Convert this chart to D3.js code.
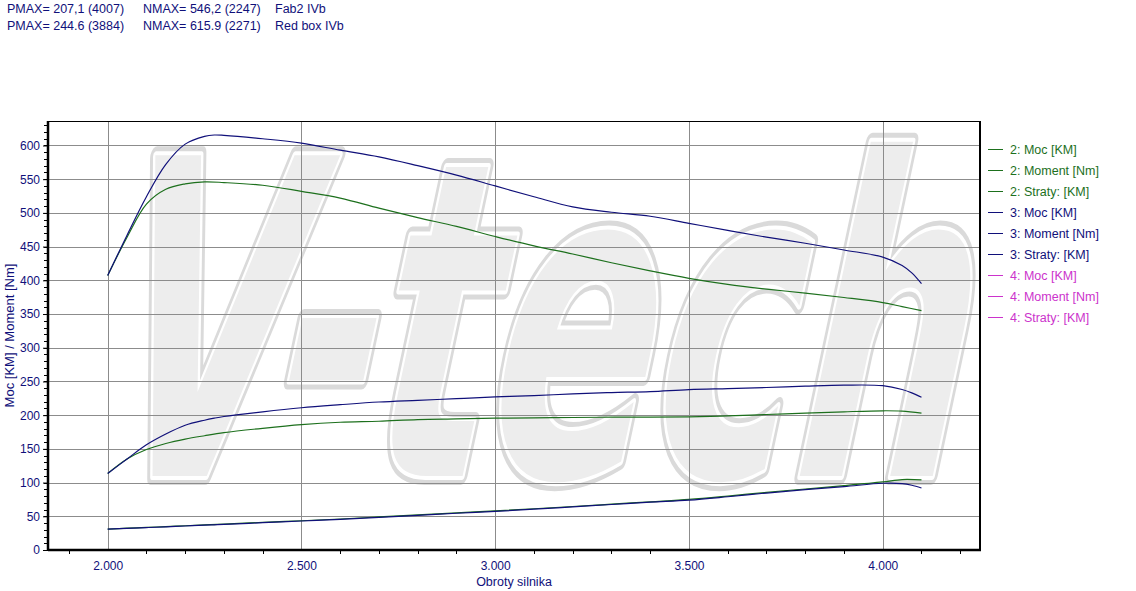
<!DOCTYPE html>
<html>
<head>
<meta charset="utf-8">
<script src="https://cdn.jsdelivr.net/npm/d3@7"></script>
<style>
  html, body { margin: 0; padding: 0; background: #fff; }
  svg { display: block; font-family: "Liberation Sans", Arial, sans-serif; }
</style>
</head>
<body>
<svg id="chart" width="1136" height="591"></svg>
<script>
// ---------------- DATA ----------------
const headerLines = [
  ["PMAX= 207,1 (4007)", "NMAX= 546,2 (2247)", "Fab2 IVb"],
  ["PMAX= 244.6 (3884)", "NMAX= 615.9 (2271)", "Red box IVb"]
];

const legendLabels = [
  "2: Moc [KM]", "2: Moment [Nm]", "2: Straty: [KM]",
  "3: Moc [KM]", "3: Moment [Nm]", "3: Straty: [KM]",
  "4: Moc [KM]", "4: Moment [Nm]", "4: Straty: [KM]"
];
const legendColors = [
  "#1d701d", "#1d701d", "#1d701d",
  "#10107a", "#10107a", "#10107a",
  "#cc33cc", "#cc33cc", "#cc33cc"
];

const xTicks = [2000, 2500, 3000, 3500, 4000];
const xTickLabels = ["2.000", "2.500", "3.000", "3.500", "4.000"];
const yTicks = [0, 50, 100, 150, 200, 250, 300, 350, 400, 450, 500, 550, 600];

// run 2 (green)
const rpm2 = [2000, 2050, 2100, 2150, 2200, 2250, 2300, 2400, 2500, 2600, 2700, 2800, 2900, 3000, 3100, 3200, 3300, 3400, 3500, 3600, 3700, 3800, 3900, 4000, 4050, 4100];
const moment2 = [407, 464, 513, 535, 543, 546, 545, 541, 532, 522, 507, 493, 480, 465, 451, 439, 426, 414, 403, 394, 387, 381, 374.5, 367, 361, 355];
const power2  = [113.5, 135, 149, 158, 164.5, 169.5, 174, 180.5, 186, 189.5, 191, 193.5, 194.5, 195.5, 196, 196.5, 197, 197, 197.5, 199, 201, 203, 205, 206.5, 206, 203];
const losses2 = [31, 32.3, 33.5, 34.8, 36, 37.3, 38.5, 41, 43.4, 46, 49, 52, 55, 58, 61.2, 64.5, 68, 71.5, 75, 80, 85.5, 90.5, 95.5, 101, 104.5, 104];

// run 3 (navy)
const rpm3 = [2000, 2050, 2100, 2150, 2200, 2250, 2275, 2300, 2400, 2500, 2600, 2700, 2800, 2900, 3000, 3100, 3200, 3300, 3400, 3500, 3600, 3700, 3800, 3900, 4000, 4050, 4075, 4100];
const moment3 = [407, 467, 524, 572, 602, 613.5, 615.5, 615, 610, 603.5, 593, 583, 570, 556, 540, 524, 509, 501, 495, 484.5, 474, 464, 455, 445, 434.5, 422, 411, 395];
const power3  = [113.5, 135, 156, 172, 185, 192.5, 195.5, 198, 205, 211, 215.5, 219.5, 222, 224.5, 227, 229, 231.5, 233.5, 235, 238, 239.5, 241, 243, 244.5, 243.7, 238, 233, 226.5];
const losses3 = [31, 32.1, 33.2, 34.4, 35.6, 36.8, 37.4, 38, 40.5, 43, 45.5, 48.5, 51.5, 54.5, 57.3, 60.5, 64, 67.5, 71, 74, 79, 84.5, 89.5, 94, 99, 98.5, 96, 92];

// ---------------- LAYOUT ----------------
const svg = d3.select("#chart");
const plot = { left: 48, right: 980, top: 121, bottom: 550 };
const x = d3.scaleLinear().domain([1846, 4251]).range([plot.left, plot.right]);
const y = d3.scaleLinear().domain([0, 636.3]).range([plot.bottom, plot.top]);
const textColor = "#10107a";
const green = legendColors[0], navy = legendColors[3];

// header
headerLines.forEach((line, i) => {
  const xs = [7, 143, 275];
  line.forEach((t, j) => {
    svg.append("text").attr("x", xs[j]).attr("y", 13 + i * 16.5)
      .attr("font-size", 12.5).attr("fill", textColor).text(t);
  });
});

// clip for plot
svg.append("clipPath").attr("id", "clip").append("rect")
  .attr("x", plot.left).attr("y", plot.top)
  .attr("width", plot.right - plot.left).attr("height", plot.bottom - plot.top);

// watermark
const wm = svg.append("g").attr("clip-path", "url(#clip)");
const wmG = wm.append("g").attr("transform", "translate(86,476) skewX(-12) scale(0.55,1)");
[["#dadada", 18], ["#ffffff", 8], ["#ededed", 0]].forEach(([c, w]) => {
  wmG.append("text").attr("x", 0).attr("y", 0)
    .attr("font-family", "DejaVu Sans").attr("font-weight", "bold")
    .attr("font-size", 440)
    .attr("fill", "#ededed")
    .attr("stroke", w ? c : "none").attr("stroke-width", w)
    .attr("stroke-linejoin", "round")
    .text("V-tech");
});

// grid
const grid = svg.append("g");
grid.selectAll("line.h").data(yTicks.filter(d => d > 0)).join("line")
  .attr("x1", plot.left).attr("x2", plot.right)
  .attr("y1", d => Math.round(y(d)) + 0.5).attr("y2", d => Math.round(y(d)) + 0.5)
  .attr("stroke", "#8c8c8c").attr("stroke-width", 1);
grid.selectAll("line.v").data(xTicks).join("line")
  .attr("y1", plot.top).attr("y2", plot.bottom)
  .attr("x1", d => Math.round(x(d)) + 0.5).attr("x2", d => Math.round(x(d)) + 0.5)
  .attr("stroke", "#8c8c8c").attr("stroke-width", 1);

// frame
svg.append("rect").attr("x", plot.left + 0.5).attr("y", plot.top + 0.5)
  .attr("width", plot.right - plot.left - 1).attr("height", plot.bottom - plot.top)
  .attr("fill", "none").attr("stroke", "#000").attr("stroke-width", 1);
svg.append("line").attr("x1", plot.right).attr("x2", plot.right)
  .attr("y1", plot.top).attr("y2", plot.bottom).attr("stroke", "#000").attr("stroke-width", 2);

// axes
const yAxis = d3.axisLeft(y).tickValues(yTicks).tickSize(5).tickPadding(3);
const gy = svg.append("g").attr("transform", `translate(${plot.left},0)`).call(yAxis);
gy.select(".domain").remove();
gy.selectAll("text").attr("font-size", 12).attr("fill", textColor).attr("font-family", "Liberation Sans, Arial");
gy.selectAll("line").attr("stroke", "#000");
// y minor ticks
svg.append("g").selectAll("line").data(d3.range(0, 636, 10)).join("line")
  .attr("x1", plot.left - 4).attr("x2", plot.left)
  .attr("y1", d => Math.round(y(d)) + 0.5).attr("y2", d => Math.round(y(d)) + 0.5)
  .attr("stroke", "#000");

const xAxis = d3.axisBottom(x).tickValues(xTicks).tickFormat((d, i) => xTickLabels[i]).tickSize(0).tickPadding(11);
const gx = svg.append("g").attr("transform", `translate(0,${plot.bottom})`).call(xAxis);
gx.select(".domain").remove();
gx.selectAll("text").attr("font-size", 12).attr("fill", textColor).attr("font-family", "Liberation Sans, Arial");
// x minor ticks
svg.append("g").selectAll("line").data(d3.range(1900, 4300, 100).filter(d => xTicks.indexOf(d) < 0)).join("line")
  .attr("y1", plot.bottom).attr("y2", plot.bottom + 4)
  .attr("x1", d => Math.round(x(d)) + 0.5).attr("x2", d => Math.round(x(d)) + 0.5)
  .attr("stroke", "#000");

// thick axis lines
svg.append("line").attr("x1", plot.left).attr("x2", plot.left)
  .attr("y1", plot.top).attr("y2", plot.bottom + 1).attr("stroke", "#000").attr("stroke-width", 2.5);
svg.append("line").attr("x1", plot.left).attr("x2", plot.right + 1)
  .attr("y1", plot.bottom).attr("y2", plot.bottom).attr("stroke", "#000").attr("stroke-width", 2.5);

// axis titles
svg.append("text").attr("x", (plot.left + plot.right) / 2).attr("y", 586)
  .attr("text-anchor", "middle").attr("font-size", 12.5).attr("fill", textColor).text("Obroty silnika");
svg.append("text").attr("transform", `translate(14,${(plot.top + plot.bottom) / 2}) rotate(-90)`)
  .attr("text-anchor", "middle").attr("font-size", 13).attr("fill", textColor).text("Moc [KM] / Moment [Nm]");

// curves
const line = d3.line().x(d => x(d[0])).y(d => y(d[1])).curve(d3.curveCatmullRom.alpha(0.5));
const curves = [
  [rpm2, losses2, green], [rpm3, losses3, navy],
  [rpm2, power2, green], [rpm3, power3, navy],
  [rpm2, moment2, green], [rpm3, moment3, navy]
];
const cg = svg.append("g").attr("clip-path", "url(#clip)");
curves.forEach(([r, v, c]) => {
  cg.append("path").datum(r.map((d, i) => [d, v[i]]))
    .attr("d", line).attr("fill", "none").attr("stroke", c).attr("stroke-width", 1.2);
});

// legend
const lg = svg.append("g");
legendLabels.forEach((t, i) => {
  const yy = 149 + i * 21;
  lg.append("line").attr("x1", 988).attr("x2", 1003).attr("y1", yy + 0.5).attr("y2", yy + 0.5)
    .attr("stroke", legendColors[i]).attr("stroke-width", 1);
  lg.append("text").attr("x", 1010).attr("y", yy + 4.5).attr("font-size", 12.5)
    .attr("fill", legendColors[i]).text(t);
});
</script>
</body>
</html>
